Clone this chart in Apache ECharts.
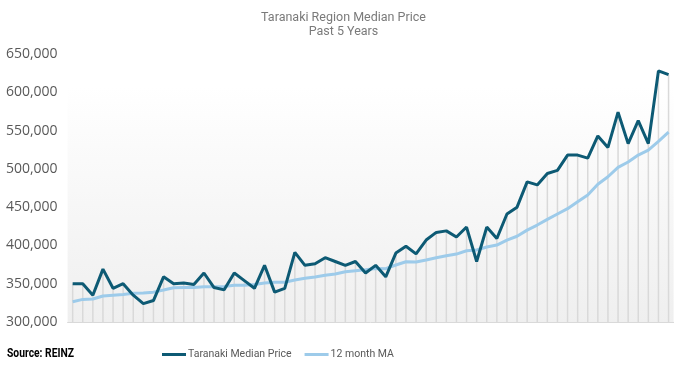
<!DOCTYPE html>
<html>
<head>
<meta charset="utf-8">
<script src="https://cdn.jsdelivr.net/npm/echarts@6/dist/echarts.min.js"></script>
<style>
html,body{margin:0;padding:0;background:#fff;}
#chart{width:687px;height:368px;}
</style>
</head>
<body>
<div id="chart"></div>
<script>
// 60 monthly observations (past 5 years)
const months = Array.from({length: 60}, (_, i) => 'M' + (i + 1));

const medianPrice = [
  350000, 350000, 335000, 369000, 344000, 350000, 335000, 324000, 328000, 359000,
  350000, 351000, 349000, 364000, 345000, 342000, 364000, 354000, 344000, 374000,
  339000, 344000, 391000, 374000, 376000, 384000, 379000, 374000, 379000, 364000,
  374000, 359000, 390000, 399000, 389000, 407000, 417000, 419000, 411000, 424000,
  379000, 424000, 409000, 441000, 450000, 483000, 479000, 494000, 498000, 518000,
  518000, 514000, 543000, 528000, 574000, 533000, 563000, 533000, 628000, 623000
];

const movingAvg = [
  326500, 329500, 330000, 334000, 335000, 336000, 337400, 338000, 339000, 341800,
  344800, 345000, 345000, 346000, 346000, 346500, 348000, 348000, 349000, 351000,
  352000, 352000, 354800, 357000, 358700, 361000, 362700, 365700, 367000, 368300,
  370000, 369600, 374400, 378700, 378300, 381000, 384000, 386600, 388700, 393000,
  394000, 398000, 400500, 407000, 412000, 420000, 426600, 434000, 441000, 448000,
  457000, 465800, 480000, 489700, 502000, 509000, 518000, 524500, 536000, 548000
];

const yTicks = { min: 300000, max: 650000, step: 50000 };
const titleLines = ['Taranaki Region Median Price', 'Past 5 Years'];
const seriesNames = ['Taranaki Median Price', '12 month MA'];
const sourceText = 'Source: REINZ';

const chart = echarts.init(document.getElementById('chart'), null, {renderer: 'canvas'});
const font = '"Open Sans", "Noto Sans", sans-serif';

chart.setOption({
  animation: false,
  backgroundColor: '#ffffff',
  title: {
    text: titleLines.join('\n'),
    left: 'center',
    top: 6,
    textStyle: { color: '#7a7a7a', fontSize: 12.5, fontWeight: 'normal', fontFamily: 'Roboto, sans-serif', lineHeight: 14 }
  },
  legend: {
    data: [
      { name: seriesNames[0], icon: 'rect' },
      { name: seriesNames[1], icon: 'rect' }
    ],
    left: 157,
    top: 344,
    itemWidth: 24,
    itemHeight: 3,
    itemGap: 13,
    textStyle: { color: '#595959', fontSize: 10.5, fontFamily: 'Roboto, sans-serif', padding: [0, 0, 0, -3] }
  },
  graphic: [{
    type: 'text',
    left: 7,
    top: 348,
    scaleX: 0.86,
    style: { text: sourceText, fill: '#000', font: 'bold 12px Roboto, sans-serif' }
  }],
  grid: {
    left: 67.6,
    right: 13.4,
    top: 54,
    bottom: 46,
    show: true,
    borderWidth: 0,
    backgroundColor: new echarts.graphic.LinearGradient(0, 0, 0, 1, [
      { offset: 0, color: '#ffffff' },
      { offset: 0.12, color: '#ffffff' },
      { offset: 1, color: '#efefef' }
    ])
  },
  xAxis: {
    type: 'category',
    data: months,
    boundaryGap: true,
    axisLine: { show: true, lineStyle: { color: '#d9d9d9', width: 1 } },
    axisTick: { show: false },
    axisLabel: { show: false },
    splitLine: { show: false }
  },
  yAxis: {
    type: 'value',
    min: yTicks.min,
    max: yTicks.max,
    interval: yTicks.step,
    axisLine: { show: false },
    axisTick: { show: false },
    splitLine: { show: false },
    axisLabel: {
      color: '#595959',
      fontSize: 14,
      fontFamily: font,
      margin: 10,
      formatter: v => v.toLocaleString('en-US')
    }
  },
  series: [
    {
      name: 'drop',
      type: 'bar',
      data: medianPrice,
      barWidth: 1.5,
      itemStyle: { color: '#d9d9d9' },
      silent: true,
      z: 1
    },
    {
      name: seriesNames[1],
      type: 'line',
      data: movingAvg,
      symbol: 'none',
      lineStyle: { color: '#9dcbea', width: 3 },
      itemStyle: { color: '#9dcbea' },
      z: 2
    },
    {
      name: seriesNames[0],
      type: 'line',
      data: medianPrice,
      symbol: 'none',
      lineStyle: { color: '#0d5a74', width: 3 },
      itemStyle: { color: '#0d5a74' },
      z: 3
    }
  ]
});
</script>
</body>
</html>
